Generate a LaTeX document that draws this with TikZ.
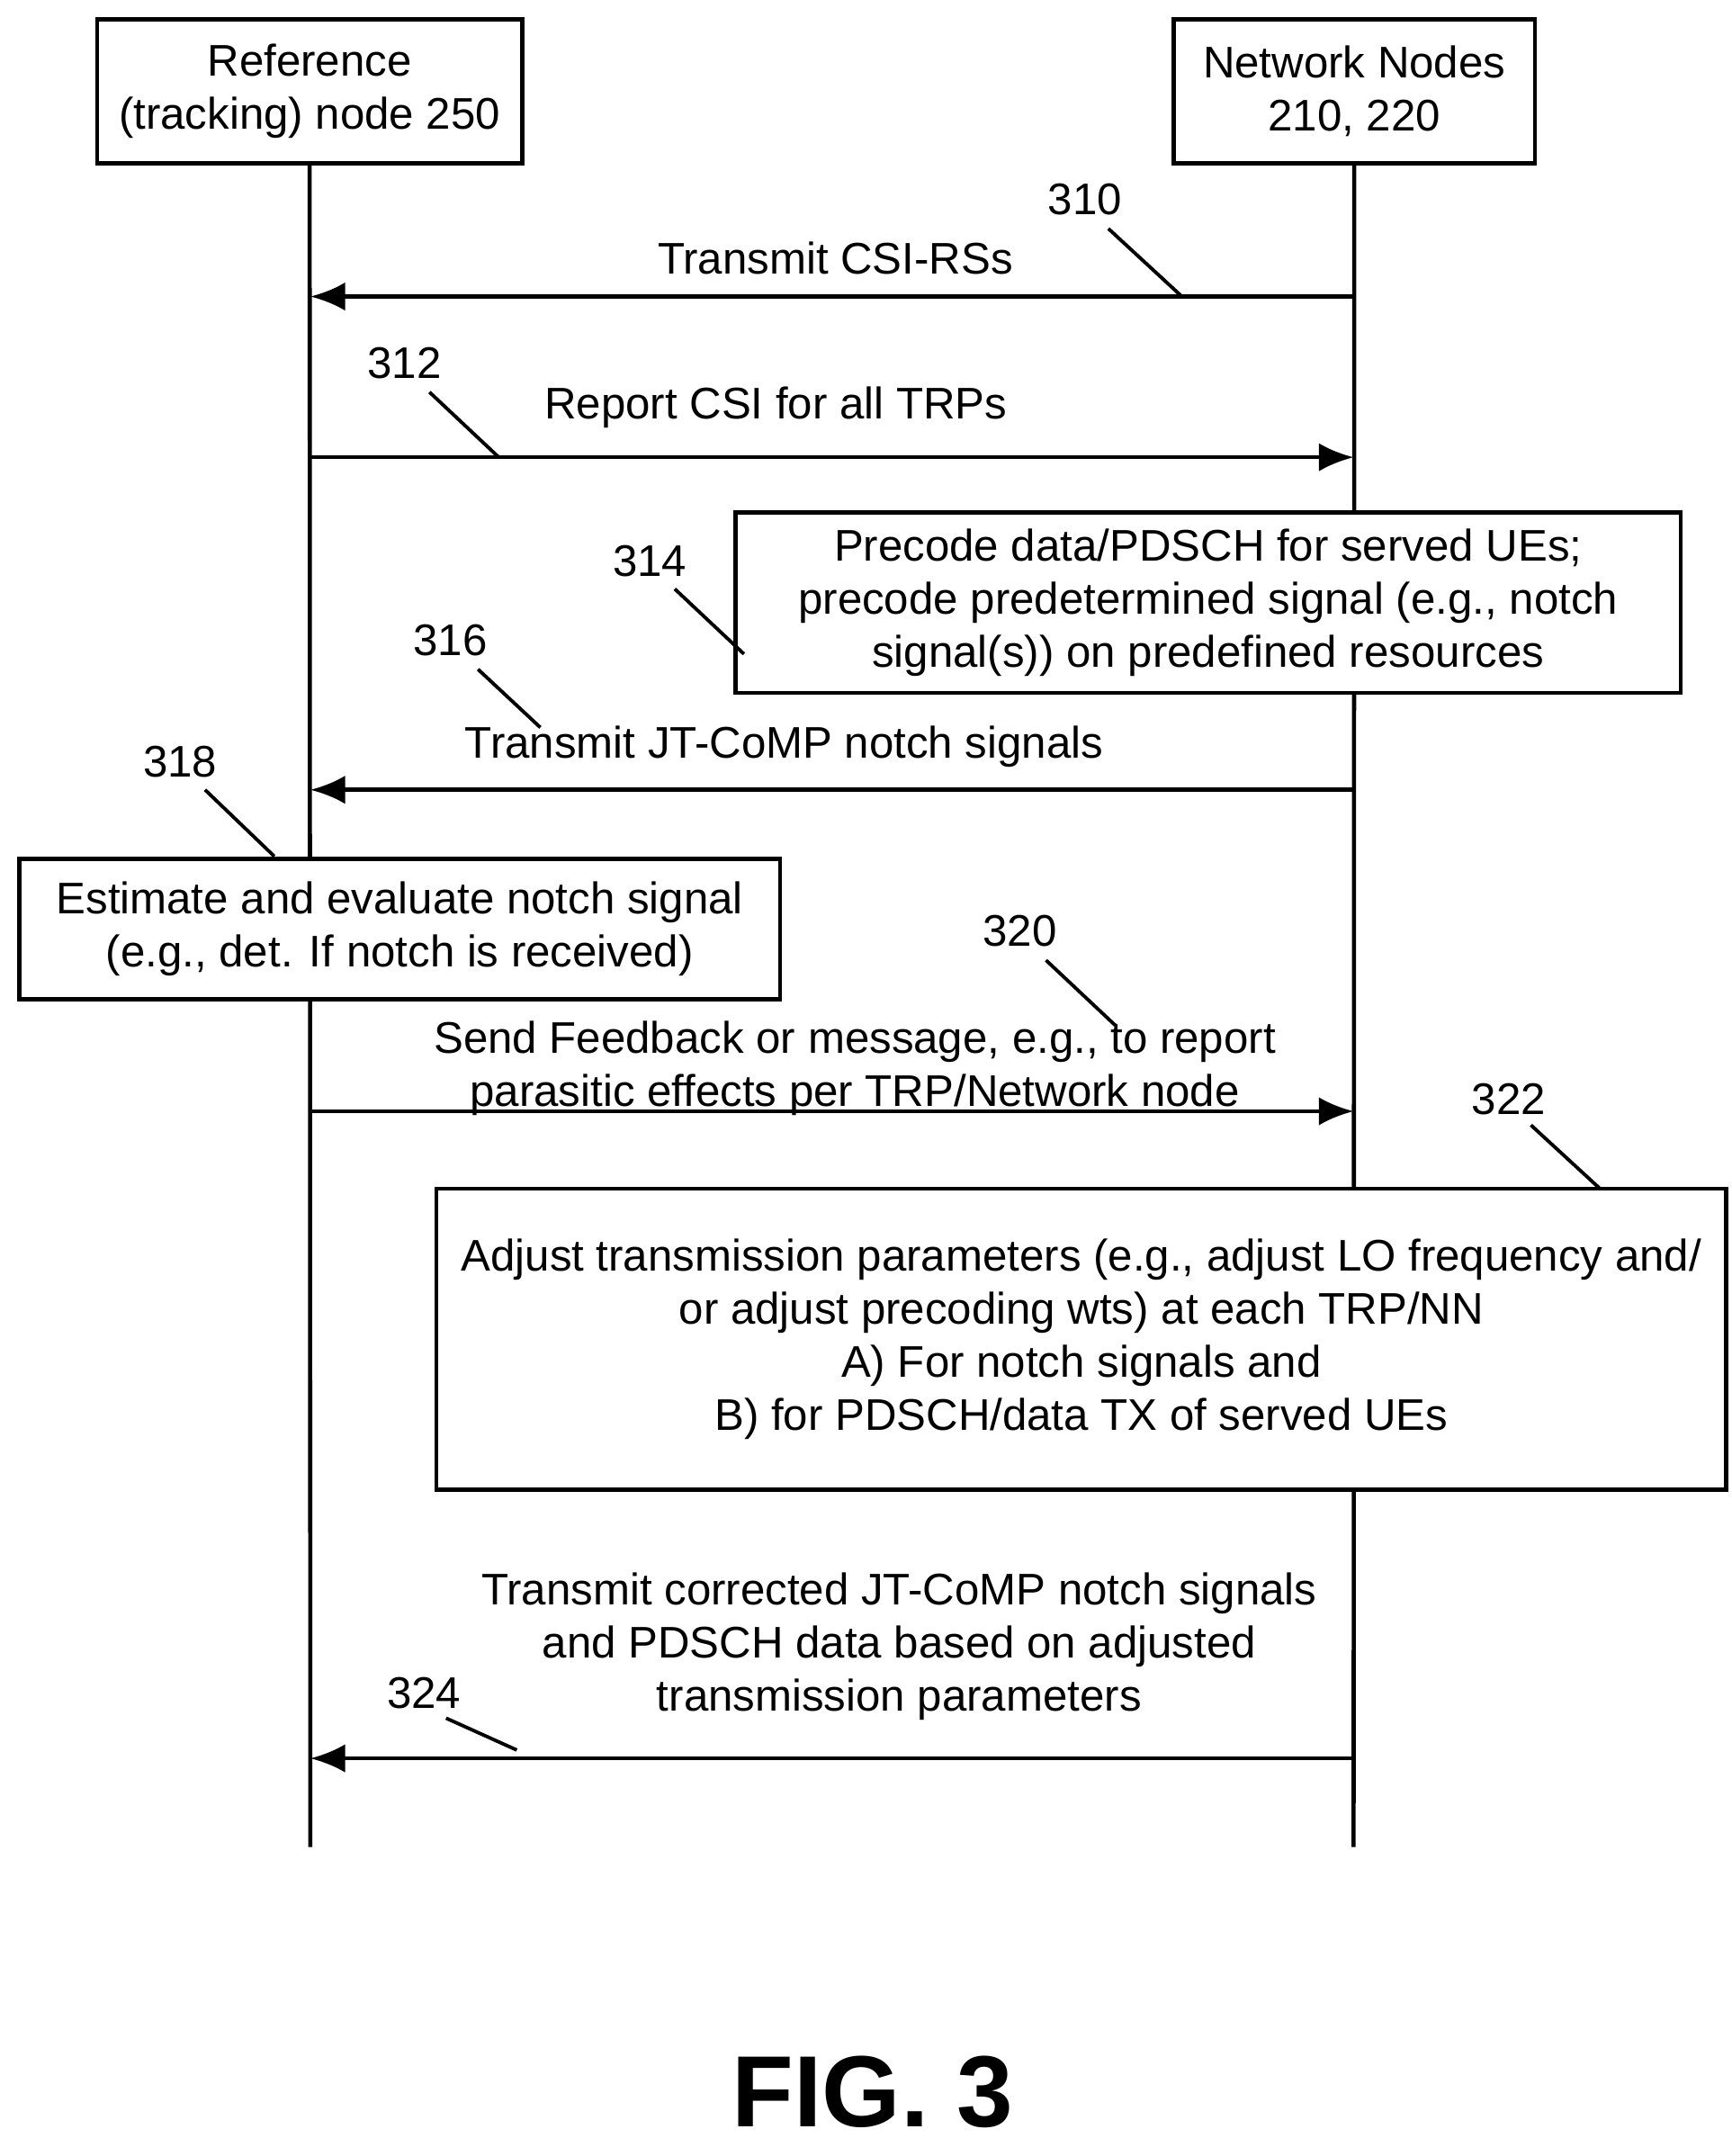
\documentclass[tikz,border=0pt]{standalone}
\usepackage{fontspec}
\setmainfont{Liberation Sans}
\usetikzlibrary{arrows.meta}
\begin{document}
\fontsize{14}{16.8}\selectfont
\begin{tikzpicture}[x=0.0154cm,y=-0.0154cm]
 % styles
  \tikzstyle{boite}=[rectangle,draw,line width=1.3pt,align=center,inner sep=0pt]
  \tikzstyle{msg}=[-{Latex[length=11pt,width=9pt]},line width=1.3pt]
  \tikzstyle{vie}=[line width=1.3pt]
  \tikzstyle{renvoi}=[line width=1.1pt]
  \tikzstyle{txt}=[align=center,inner sep=0pt]
  \useasboundingbox (0,0) rectangle (1250,1556);
 % les entetes
  \node[boite,minimum width=307*0.0154cm,minimum height=104*0.0154cm] (R) at (223.5,66) {Reference\\(tracking) node 250};
  \node[boite,minimum width=261*0.0154cm,minimum height=104*0.0154cm] (N) at (977.5,66) {Network Nodes\\210, 220};
  \coordinate (Rb) at (224,1333);
  \coordinate (Nb) at (977,1333);
  \draw[vie] (R.south)--(Rb);
  \draw[vie] (N.south)--(Nb);
 % points des messages
  \foreach \y/\n in {214/a,330/b,570/c,802/d,1269/e}{
    \coordinate (R\n) at (224,\y);
    \coordinate (N\n) at (977,\y);
  }
 % les boites
  \node[boite,fill=white,minimum width=682*0.0154cm,minimum height=130*0.0154cm] (B314) at (872,435) {Precode data/PDSCH for served UEs;\\precode predetermined signal (e.g., notch\\signal(s)) on predefined resources};
  \node[boite,fill=white,minimum width=549*0.0154cm,minimum height=101*0.0154cm] (B318) at (288.5,670.5) {Estimate and evaluate notch signal\\(e.g., det. If notch is received)};
  \node[boite,fill=white,minimum width=931*0.0154cm,minimum height=217*0.0154cm] (B322) at (780.5,966.5) {Adjust transmission parameters (e.g., adjust LO frequency and/\\or adjust precoding wts) at each TRP/NN\\A) For notch signals and\\B) for PDSCH/data TX of served UEs};
 % les fleches
  \draw[msg] (Na)--(Ra);
  \draw[msg] (Rb)--(Nb);
  \draw[msg] (Nc)--(Rc);
  \draw[msg] (Rd)--(Nd);
  \draw[msg] (Ne)--(Re);
 % les textes
  \node[txt] (T310) at (603,186) {Transmit CSI-RSs};
  \node[txt] (T312) at (560,294) {Report CSI for all TRPs};
  \node[txt] (T316) at (566,539) {Transmit JT-CoMP notch signals};
  \node[txt] (T320) at (617,771) {Send Feedback or message, e.g., to report\\parasitic effects per TRP/Network node};
  \node[txt] (T324) at (649,1188) {Transmit corrected JT-CoMP notch signals\\and PDSCH data based on adjusted\\transmission parameters};
 % les renvois
  \foreach \n/\x/\y/\ax/\ay/\bx/\by in {310/783/144/800/165/852/213,312/292/262/310/283/360/330,314/469/405/487/425/537/472,316/325/462/345/483/390/525,318/130/550/148/570/198/618,320/736/672/755/693/805/740,322/1089/793/1105/812/1155/858,324/306/1222/322/1240/373/1263}{
    \node[txt] (L\n) at (\x,\y) {\n};
    \coordinate (La\n) at (\ax,\ay);
    \coordinate (Lb\n) at (\bx,\by);
    \draw[renvoi] (La\n)--(Lb\n);
  }
 % la legende
  \node[txt,font=\fontsize{32}{38}\selectfont\bfseries] (F) at (630,1510) {FIG. 3};
\end{tikzpicture}
\end{document}
